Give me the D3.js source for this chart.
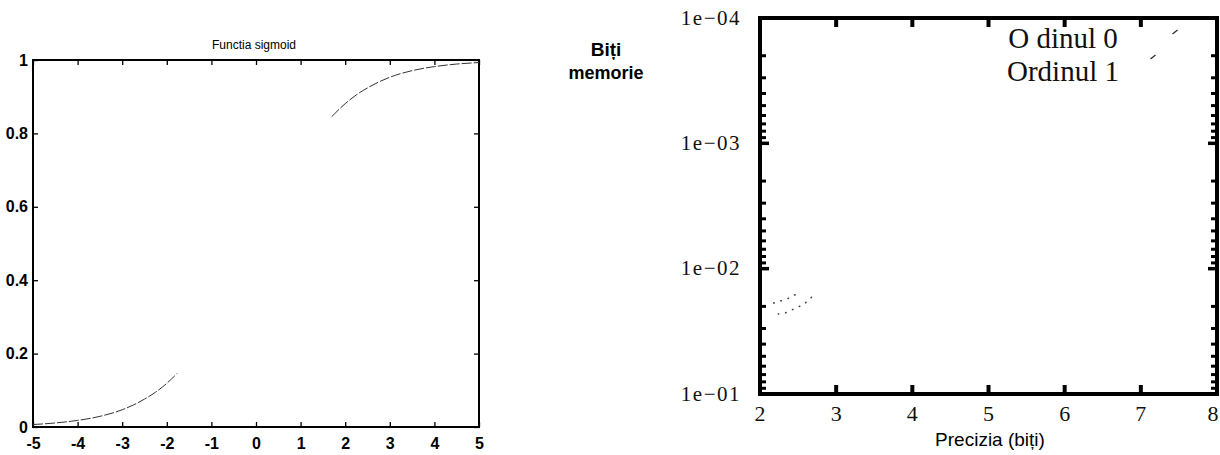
<!DOCTYPE html>
<html>
<head>
<meta charset="utf-8">
<script src="https://cdn.jsdelivr.net/npm/d3@7"></script>
<style>
  html, body { margin: 0; padding: 0; background: #fff; }
  svg { display: block; }
</style>
</head>
<body>
<svg id="fig" width="1220" height="455"></svg>
<script>
// ---- Left panel: sigmoid function (visible segments of the curve) ----
const sigXLow  = [-5, -4.5, -4, -3.5, -3, -2.75, -2.5, -2.25, -2, -1.77];
const sigYLow  = [0.0067, 0.011, 0.018, 0.029, 0.047, 0.060, 0.076, 0.095, 0.119, 0.146];
const sigXHigh = [1.7, 2, 2.25, 2.5, 2.75, 3, 3.5, 4, 4.5, 5];
const sigYHigh = [0.846, 0.881, 0.905, 0.924, 0.940, 0.953, 0.971, 0.982, 0.989, 0.993];
const sigXTicks = [-5, -4, -3, -2, -1, 0, 1, 2, 3, 4, 5];
const sigYTicks = [0, 0.2, 0.4, 0.6, 0.8, 1];
const sigYTickLabels = ["0", "0.2", "0.4", "0.6", "0.8", "1"];

// ---- Right panel: memory bits vs. precision ----
const precX0 = [2.18, 2.35, 2.41, 2.52];
const precY0 = [0.0188, 0.0175, 0.0168, 0.0154];
const precX1 = [2.24, 2.33, 2.58, 2.69];
const precY1 = [0.0230, 0.0226, 0.0192, 0.0166];
const precXTicks = [2, 3, 4, 5, 6, 7, 8];
const memDecades = [1e-4, 1e-3, 1e-2, 1e-1];
const memDecadeLabels = ["1e\u221204", "1e\u221203", "1e\u221202", "1e\u221201"];
const legendLabels = ["O dinul 0", "Ordinul 1"];

const svg = d3.select("#fig");

// ================= Left panel =================
const L = { x0: 33, x1: 479, y0: 60, y1: 427 };
const lx = d3.scaleLinear().domain([-5, 5]).range([L.x0, L.x1]);
const ly = d3.scaleLinear().domain([0, 1]).range([L.y1, L.y0]);
const narrow = "'Liberation Sans Narrow', 'Arial Narrow', 'Liberation Sans', sans-serif";

const left = svg.append("g");

// tick marks on all four sides, pointing inward
const tickLen = 5;
const lb = left.append("g").attr("transform", `translate(0,${L.y1})`)
  .call(d3.axisBottom(lx).tickValues(sigXTicks).tickSize(-tickLen).tickFormat(d => d < 0 ? "-" + Math.abs(d) : d).tickPadding(8));
const lt = left.append("g").attr("transform", `translate(0,${L.y0})`)
  .call(d3.axisTop(lx).tickValues(sigXTicks).tickSize(-tickLen).tickFormat(""));
const ll = left.append("g").attr("transform", `translate(${L.x0},0)`)
  .call(d3.axisLeft(ly).tickValues(sigYTicks).tickSize(-tickLen).tickPadding(5)
    .tickFormat((d, i) => sigYTickLabels[i]));
const lr = left.append("g").attr("transform", `translate(${L.x1},0)`)
  .call(d3.axisRight(ly).tickValues(sigYTicks).tickSize(-tickLen).tickFormat(""));
[lb, lt, ll, lr].forEach(g => {
  g.select(".domain").remove();
  g.selectAll(".tick line").attr("stroke", "#000").attr("stroke-width", 1.3);
  g.selectAll("text").attr("font-family", narrow).attr("font-weight", "bold")
    .attr("font-size", 16).attr("fill", "#000");
});
lb.selectAll("text").attr("dy", "0.85em");

// frame
left.append("rect").attr("x", L.x0).attr("y", L.y0)
  .attr("width", L.x1 - L.x0).attr("height", L.y1 - L.y0)
  .attr("fill", "none").attr("stroke", "#000").attr("stroke-width", 2);

left.append("text").attr("x", (L.x0 + L.x1) / 2 - 2).attr("y", 49)
  .attr("text-anchor", "middle").attr("font-family", narrow)
  .attr("font-size", 12).text("Functia sigmoid");

const sigLine = d3.line().x(d => lx(d[0])).y(d => ly(d[1])).curve(d3.curveMonotoneX);
[[sigXLow, sigYLow], [sigXHigh, sigYHigh]].forEach(([xs, ys]) => {
  left.append("path").datum(xs.map((x, i) => [x, ys[i]]))
    .attr("d", sigLine).attr("fill", "none")
    .attr("stroke", "#333").attr("stroke-width", 1)
    .attr("stroke-dasharray", "10,2");
});

// ================= Right panel =================
const R = { x0: 760, x1: 1217, y0: 18, y1: 394 };
const rx = d3.scaleLinear().domain([2, 8]).range([R.x0, R.x1]);
const ry = d3.scaleLog().domain([1e-1, 1e-4]).range([R.y1, R.y0]);
const serif = "'Liberation Serif', 'Times New Roman', serif";
const sans = "'Liberation Sans', Arial, sans-serif";

const right = svg.append("g");

// minor + major log ticks along both vertical sides
const minorTicks = [];
memDecades.slice(0, 3).forEach(d => {
  for (let k = 2; k <= 9; k++) minorTicks.push(d * k);
});
[R.x0, R.x1].forEach((xPos, side) => {
  const dir = side === 0 ? 1 : -1;
  right.selectAll(null).data(minorTicks).enter().append("line")
    .attr("x1", xPos).attr("x2", xPos + dir * 6)
    .attr("y1", d => ry(d)).attr("y2", d => ry(d))
    .attr("stroke", "#000").attr("stroke-width", 3);
  right.selectAll(null).data(memDecades).enter().append("line")
    .attr("x1", xPos).attr("x2", xPos + dir * 9)
    .attr("y1", d => ry(d)).attr("y2", d => ry(d))
    .attr("stroke", "#000").attr("stroke-width", 3.5);
});

// x ticks on top and bottom, pointing inward
const innerX = precXTicks.slice(1, -1);
[[R.y1, -1], [R.y0, 1]].forEach(([yPos, dir]) => {
  right.selectAll(null).data(innerX).enter().append("line")
    .attr("x1", d => rx(d)).attr("x2", d => rx(d))
    .attr("y1", yPos).attr("y2", yPos + dir * 9)
    .attr("stroke", "#000").attr("stroke-width", 4);
});

// frame
right.append("rect").attr("x", R.x0).attr("y", R.y0)
  .attr("width", R.x1 - R.x0).attr("height", R.y1 - R.y0)
  .attr("fill", "none").attr("stroke", "#000").attr("stroke-width", 4);

// tick labels
right.selectAll(null).data(memDecades).enter().append("text")
  .attr("x", 741).attr("y", d => ry(d)).attr("dy", "0.32em")
  .attr("text-anchor", "end").attr("font-family", serif)
  .attr("font-size", 21).attr("letter-spacing", 1.5).attr("fill", "#111")
  .text((d, i) => memDecadeLabels[i]);
right.selectAll(null).data(precXTicks).enter().append("text")
  .attr("x", d => Math.min(rx(d), 1213)).attr("y", 421)
  .attr("text-anchor", "middle").attr("font-family", serif)
  .attr("font-size", 22).attr("fill", "#111").text(d => d);

right.append("text").attr("x", 990).attr("y", 446)
  .attr("text-anchor", "middle").attr("font-family", sans)
  .attr("font-size", 19).attr("fill", "#000").text("Precizia (bi\u021Bi)");

svg.append("text").attr("x", 606).attr("y", 56)
  .attr("text-anchor", "middle").attr("font-family", sans)
  .attr("font-size", 19).attr("font-weight", "bold").text("Bi\u021Bi");
svg.append("text").attr("x", 606).attr("y", 79)
  .attr("text-anchor", "middle").attr("font-family", sans)
  .attr("font-size", 18).attr("font-weight", "bold").text("memorie");

// data series (faint dotted lines)
const precLine = d3.line().x(d => rx(d[0])).y(d => ry(d[1]));
[[precX0, precY0], [precX1, precY1]].forEach(([xs, ys]) => {
  right.append("path").datum(xs.map((x, i) => [x, ys[i]]))
    .attr("d", precLine).attr("fill", "none")
    .attr("stroke", "#444").attr("stroke-width", 1.6)
    .attr("stroke-linecap", "round")
    .attr("stroke-dasharray", "0.5,7");
});

// legend
const legendY = [48, 81];
right.selectAll(null).data(legendLabels).enter().append("text")
  .attr("x", 1063).attr("y", (d, i) => legendY[i])
  .attr("text-anchor", "middle").attr("font-family", serif)
  .attr("font-size", 29).attr("fill", "#111").text(d => d);
const legendMarks = [[1175, 32], [1153, 57]];
right.selectAll(null).data(legendMarks).enter().append("line")
  .attr("x1", d => d[0] - 2.5).attr("y1", d => d[1] + 2)
  .attr("x2", d => d[0] + 2.5).attr("y2", d => d[1] - 2)
  .attr("stroke", "#333").attr("stroke-width", 1.5);
</script>
</body>
</html>
